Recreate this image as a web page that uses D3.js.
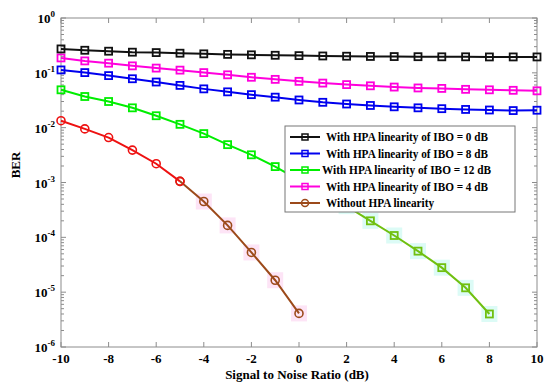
<!DOCTYPE html>
<html>
<head>
  <meta charset="utf-8">
  <title>BER vs SNR</title>
  <script src="https://d3js.org/d3.v7.min.js"></script>
  <style>
    body { margin: 0; background: #fff; }
    text { font-family: "Liberation Serif", "Times New Roman", serif; font-weight: bold; }
  </style>
</head>
<body>
<svg class="chart"></svg>
<script>
// SNR values (dB)
const snr = d3.range(-10, 11, 1);

// BER series
const ibo0  = [0.273, 0.258, 0.248, 0.238, 0.234, 0.228, 0.222, 0.217, 0.213, 0.209, 0.206, 0.203, 0.201, 0.199, 0.198, 0.197, 0.196, 0.196, 0.195, 0.195, 0.195];
const ibo8  = [0.113, 0.101, 0.089, 0.078, 0.068, 0.059, 0.051, 0.045, 0.040, 0.036, 0.032, 0.029, 0.027, 0.0254, 0.024, 0.023, 0.0222, 0.0215, 0.021, 0.0205, 0.0208];
const ibo12 = [0.049, 0.037, 0.030, 0.023, 0.0165, 0.0115, 0.0078, 0.0049, 0.0032, 0.00195, 0.0011, 0.00065, 0.00037, 0.0002, 0.000108, 0.000056, 0.000028, 0.000012, 0.000004];
const ibo4  = [0.187, 0.165, 0.150, 0.134, 0.122, 0.112, 0.101, 0.092, 0.083, 0.076, 0.070, 0.065, 0.061, 0.058, 0.055, 0.053, 0.052, 0.050, 0.049, 0.048, 0.047];
const noHpa = [0.0134, 0.0095, 0.0066, 0.0039, 0.0022, 0.00105, 0.00045, 0.000165, 0.000053, 0.0000165, 0.0000041];

const legendLabels = [
  "With HPA linearity of IBO = 0 dB",
  "With HPA linearity of IBO = 8 dB",
  "With HPA linearity of IBO = 12 dB",
  "With HPA linearity of IBO = 4 dB",
  "Without HPA linearity"
];
const xTicks = [-10, -8, -6, -4, -2, 0, 2, 4, 6, 8, 10];
const yExps = [0, -1, -2, -3, -4, -5, -6];

const W = 550, H = 384;
const svg = d3.select(".chart").attr("width", W).attr("height", H);

const x = d3.scaleLinear().domain([-10, 10]).range([61, 537]);
const y = d3.scaleLog().domain([1e-6, 1]).range([347, 18]);

const axisColor = "#8c8c8c";

// frame
svg.append("rect")
  .attr("x", x(-10)).attr("y", y(1))
  .attr("width", x(10) - x(-10)).attr("height", y(1e-6) - y(1))
  .attr("fill", "none").attr("stroke", axisColor).attr("stroke-width", 1);

// x ticks top and bottom (inward)
svg.append("g").selectAll("line").data(xTicks).join("line")
  .attr("x1", d => x(d)).attr("x2", d => x(d))
  .attr("y1", y(1e-6)).attr("y2", y(1e-6) - 5)
  .attr("stroke", axisColor);
svg.append("g").selectAll("line").data(xTicks).join("line")
  .attr("x1", d => x(d)).attr("x2", d => x(d))
  .attr("y1", y(1)).attr("y2", y(1) + 5)
  .attr("stroke", axisColor);

// y ticks (log, major and minor) left and right
const yMinor = [];
for (let e = -6; e < 0; e++) for (let m = 2; m <= 9; m++) yMinor.push(m * Math.pow(10, e));
const yMajor = yExps.map(e => Math.pow(10, e));
[[x(-10), 1], [x(10), -1]].forEach(([x0, dir]) => {
  svg.append("g").selectAll("line").data(yMajor).join("line")
    .attr("x1", x0).attr("x2", x0 + dir * 5)
    .attr("y1", d => y(d)).attr("y2", d => y(d))
    .attr("stroke", axisColor);
  svg.append("g").selectAll("line").data(yMinor).join("line")
    .attr("x1", x0).attr("x2", x0 + dir * 3)
    .attr("y1", d => y(d)).attr("y2", d => y(d))
    .attr("stroke", axisColor);
});

// x tick labels
svg.append("g").selectAll("text").data(xTicks).join("text")
  .attr("x", d => x(d)).attr("y", 363)
  .attr("text-anchor", "middle")
  .style("font-size", "13px")
  .text(d => d);

// y tick labels 10^e
const yl = svg.append("g").selectAll("text").data(yExps).join("text")
  .attr("x", 55).attr("y", d => y(Math.pow(10, d)) + 5)
  .attr("text-anchor", "end")
  .style("font-size", "13px");
yl.append("tspan").text("10");
yl.append("tspan").attr("dy", -6).style("font-size", "9px").text(d => d);

// axis titles
svg.append("text")
  .attr("transform", "translate(20, 165) rotate(-90)")
  .attr("text-anchor", "middle")
  .style("font-size", "13px")
  .text("BER");
svg.append("text")
  .attr("x", 297).attr("y", 379)
  .attr("text-anchor", "middle")
  .style("font-size", "13px")
  .text("Signal to Noise Ratio (dB)");

const line = d3.line().x(d => x(d[0])).y(d => y(d[1]));
const pts = vals => vals.map((v, i) => [snr[i], v]);

function drawSeries(data, color, shape, halo, haloFrom) {
  const g = svg.append("g");
  if (halo) {
    g.selectAll("rect.halo").data(data.slice(haloFrom || 0)).join("rect")
      .attr("x", d => x(d[0]) - 8).attr("y", d => y(d[1]) - 8)
      .attr("width", 16).attr("height", 16)
      .attr("fill", halo);
  }
  g.append("path").datum(data)
    .attr("d", line)
    .attr("fill", "none").attr("stroke", color).attr("stroke-width", 2);
  if (shape === "square") {
    g.selectAll("rect.m").data(data).join("rect")
      .attr("x", d => x(d[0]) - 3.5).attr("y", d => y(d[1]) - 3.5)
      .attr("width", 7).attr("height", 7)
      .attr("fill", "none").attr("stroke", color).attr("stroke-width", 1.8);
  } else {
    g.selectAll("circle").data(data).join("circle")
      .attr("cx", d => x(d[0])).attr("cy", d => y(d[1]))
      .attr("r", 4)
      .attr("fill", "none").attr("stroke", color).attr("stroke-width", 1.6);
  }
}

const g12 = pts(ibo12);
drawSeries(g12.slice(10), "#70c010", "square", "#dcfbf6", 2);
drawSeries(g12.slice(0, 11), "#00ee00", "square");
drawSeries(pts(ibo8), "#0000ee", "square");
drawSeries(pts(ibo4), "#ff00dd", "square");
drawSeries(pts(ibo0), "#111111", "square");
const nh = pts(noHpa);
drawSeries(nh.slice(5), "#9c4a1a", "circle", "#fde4f6", 1);
drawSeries(nh.slice(0, 6), "#ee1111", "circle");

// legend
const legColors = ["#111111", "#0000ee", "#00ee00", "#ff00dd", "#9c4a1a"];
const legLengths = [162, 162, 169, 162, 108];
const leg = svg.append("g");
leg.append("rect")
  .attr("x", 285).attr("y", 126).attr("width", 230).attr("height", 86)
  .attr("fill", "#fff").attr("stroke", "#777").attr("stroke-width", 1);
legendLabels.forEach((lab, i) => {
  const yy = 137 + i * 16.5;
  leg.append("line").attr("x1", 290).attr("x2", 320).attr("y1", yy).attr("y2", yy)
    .attr("stroke", legColors[i]).attr("stroke-width", 2);
  if (i === 4) {
    leg.append("circle").attr("cx", 305).attr("cy", yy).attr("r", 3.5)
      .attr("fill", "none").attr("stroke", legColors[i]).attr("stroke-width", 1.5);
  } else {
    leg.append("rect").attr("x", 302).attr("y", yy - 3).attr("width", 6).attr("height", 6)
      .attr("fill", "none").attr("stroke", legColors[i]).attr("stroke-width", 1.5);
  }
  leg.append("text").attr("x", i === 2 ? 322 : 326).attr("y", yy + 4)
    .attr("textLength", legLengths[i])
    .attr("lengthAdjust", "spacingAndGlyphs")
    .style("font-size", "12px").text(lab);
});
</script>
</body>
</html>
